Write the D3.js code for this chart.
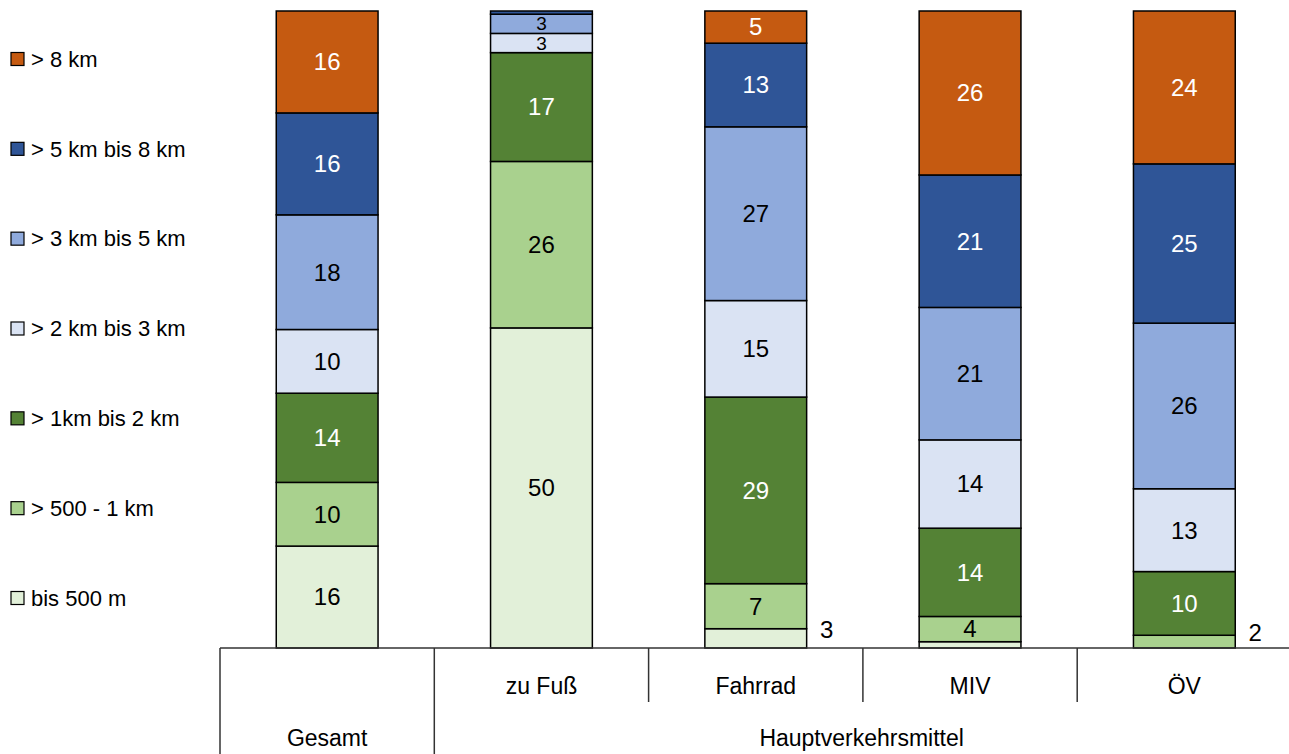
<!DOCTYPE html>
<html>
<head>
<meta charset="utf-8">
<script src="https://cdn.jsdelivr.net/npm/d3@7"></script>
<style>
  body { margin: 0; background: #fff; }
  svg { display: block; font-family: "Liberation Sans Narrow", "Arial Narrow", "Liberation Sans", sans-serif; }
</style>
</head>
<body>
<div id="chart"></div>
<script>
const categories = ['Gesamt', 'zu Fuß', 'Fahrrad', 'MIV', 'ÖV'];
const classes = ['bis 500 m', '> 500 - 1 km', '> 1km bis 2 km', '> 2 km bis 3 km',
  '> 3 km bis 5 km', '> 5 km bis 8 km', '> 8 km'];
const colors = ['#E2F0D9', '#A9D18E', '#548235', '#DAE3F3', '#8FAADC', '#2F5597', '#C55A11'];
const whiteText = [false, false, true, false, false, true, true];

// share of trips (%) per distance class, in the order of categories
const bis500 = [16, 50, 3, 1, 0];
const m500bis1km = [10, 26, 7, 4, 2];
const km1bis2 = [14, 17, 29, 14, 10];
const km2bis3 = [10, 3, 15, 14, 13];
const km3bis5 = [18, 3, 27, 21, 26];
const km5bis8 = [16, 0.5, 13, 21, 25];
const ueber8km = [16, 0, 5, 26, 24];

const groupLabel = 'Hauptverkehrsmittel';

const W = 1289, H = 754;
const series = [bis500, m500bis1km, km1bis2, km2bis3, km3bis5, km5bis8, ueber8km];
const rows = categories.map((c, i) => {
  const r = { cat: c };
  classes.forEach((k, j) => { r[k] = series[j][i]; });
  return r;
});

const stacked = d3.stack()
  .keys(classes)
  .offset(d3.stackOffsetExpand)(rows);

const x = d3.scaleBand().domain(categories).range([220, 1291.5]).padding(0);
const barW = x.bandwidth() * 0.475;
const y = d3.scaleLinear().domain([0, 1]).range([648, 11]);

const svg = d3.select('#chart').append('svg')
  .attr('width', W)
  .attr('height', H);

const layers = svg.append('g').selectAll('g')
  .data(stacked)
  .enter().append('g')
  .attr('fill', (d, i) => colors[i]);

layers.selectAll('rect')
  .data(d => d)
  .enter().append('rect')
  .attr('x', d => x(d.data.cat) + (x.bandwidth() - barW) / 2)
  .attr('y', d => y(d[1]))
  .attr('width', barW)
  .attr('height', d => y(d[0]) - y(d[1]))
  .attr('stroke', '#000')
  .attr('stroke-width', 1.5);

// value labels
const labels = svg.append('g').attr('font-size', 24).attr('text-anchor', 'middle');
stacked.forEach((layer, li) => {
  layer.forEach((d, ci) => {
    const v = series[li][ci];
    if (v < 2) return;
    const lowest = series.findIndex(s => s[ci] >= 2);
    const cx = x(d.data.cat) + x.bandwidth() / 2;
    const cy = (y(d[0]) + y(d[1])) / 2;
    if (v <= 3 && li === lowest) {
      labels.append('text')
        .attr('x', cx + barW / 2 + 20)
        .attr('y', cy - 9)
        .attr('dy', '0.35em')
        .attr('fill', '#000')
        .text(v);
    } else {
      labels.append('text')
        .attr('x', cx)
        .attr('y', cy)
        .attr('dy', '0.35em')
        .attr('font-size', v <= 3 ? 19 : null)
        .attr('fill', whiteText[li] ? '#fff' : '#000')
        .text(v);
    }
  });
});

// category axis
const axis = svg.append('g').attr('stroke', '#333').attr('stroke-width', 1.5);
axis.append('line')
  .attr('x1', 220).attr('x2', W)
  .attr('y1', 648).attr('y2', 648);
categories.forEach((c, i) => {
  axis.append('line')
    .attr('x1', x(c)).attr('x2', x(c))
    .attr('y1', 648).attr('y2', i < 2 ? H : 702);
});

const axisText = svg.append('g').attr('font-size', 23).attr('text-anchor', 'middle').attr('fill', '#000');
categories.slice(1).forEach(c => {
  axisText.append('text')
    .attr('x', x(c) + x.bandwidth() / 2)
    .attr('y', 694)
    .text(c);
});
axisText.append('text')
  .attr('x', x(categories[0]) + x.bandwidth() / 2)
  .attr('y', 746)
  .text(categories[0]);
axisText.append('text')
  .attr('x', (x(categories[1]) + W) / 2)
  .attr('y', 746)
  .text(groupLabel);

// legend
const legendOrder = classes.slice().reverse();
const ly = d3.scalePoint().domain(legendOrder).range([59, 598]);
const legend = svg.append('g').selectAll('g')
  .data(legendOrder)
  .enter().append('g')
  .attr('transform', d => `translate(11, ${ly(d)})`);

legend.append('rect')
  .attr('x', 0).attr('y', -6.5)
  .attr('width', 13).attr('height', 13)
  .attr('fill', d => colors[classes.indexOf(d)])
  .attr('stroke', '#000')
  .attr('stroke-width', 1.2);

legend.append('text')
  .attr('x', 20)
  .attr('dy', '0.35em')
  .attr('font-size', 22)
  .text(d => d);
</script>
</body>
</html>
